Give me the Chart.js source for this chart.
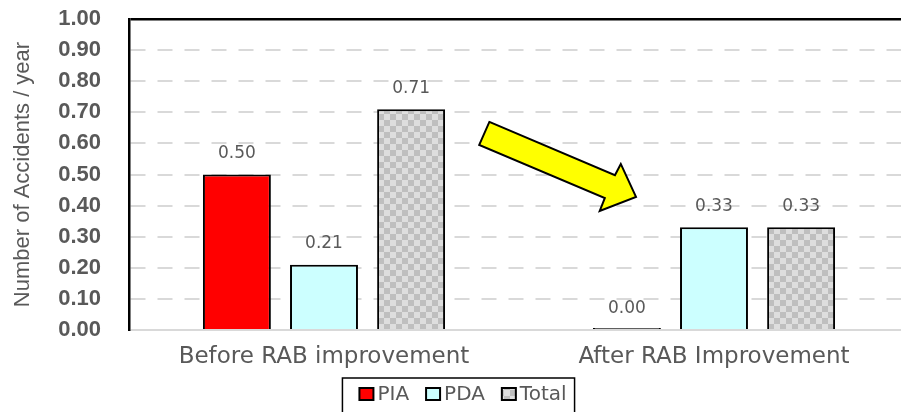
<!DOCTYPE html>
<html>
<head>
<meta charset="utf-8">
<script src="https://cdn.jsdelivr.net/npm/chart.js@4/dist/chart.umd.min.js"></script>
<style>
  body { margin: 0; overflow: hidden; background: #fff; }
</style>
</head>
<body>
<canvas id="accChart" width="915" height="412"></canvas>
<script>
var categories = ["Before RAB improvement", "After RAB Improvement"];
var seriesNames = ["PIA", "PDA", "Total"];
var piaValues = [0.50, 0.00];
var pdaValues = [0.21, 0.33];
var totalValues = [0.71, 0.33];
var yTicks = [0, 0.1, 0.2, 0.3, 0.4, 0.5, 0.6, 0.7, 0.8, 0.9, 1.0];

// arrow outline in chart units (x = category index, y = accidents/year)
var arrowX = [0.424, 0.746, 0.761, 0.800, 0.707, 0.720, 0.398];
var arrowY = [0.669, 0.498, 0.534, 0.428, 0.383, 0.424, 0.595];

var grey = "#595959";

// checker pattern for Total bars
function checker() {
  var c = document.createElement("canvas");
  c.width = 12; c.height = 12;
  var g = c.getContext("2d");
  g.fillStyle = "#dedede";
  g.fillRect(0, 0, 12, 12);
  g.fillStyle = "#bfbfbf";
  g.fillRect(0, 0, 6, 6);
  g.fillRect(6, 6, 6, 6);
  return g.createPattern(c, "repeat");
}
var checkerFill = checker();
var legendFills = ["#ff0000", "#ccffff", checkerFill];

var valueLabels = {
  id: "valueLabels",
  afterDatasetsDraw: function(chart) {
    var ctx = chart.ctx;
    ctx.save();
    ctx.font = "17px 'DejaVu Sans'";
    ctx.fillStyle = grey;
    ctx.textAlign = "center";
    ctx.textBaseline = "middle";
    chart.data.datasets.forEach(function(ds, i) {
      chart.getDatasetMeta(i).data.forEach(function(bar, j) {
        ctx.fillText(ds.data[j].toFixed(2), bar.x, chart.scales.y.getPixelForValue(ds.data[j]) - 21);
      });
    });
    ctx.restore();
  }
};

var arrowPlugin = {
  id: "arrowPlugin",
  afterDatasetsDraw: function(chart) {
    var ctx = chart.ctx, xs = chart.scales.x, ys = chart.scales.y;
    ctx.save();
    ctx.beginPath();
    for (var i = 0; i < arrowX.length; i++) {
      var px = xs.getPixelForValue(arrowX[i]);
      var py = ys.getPixelForValue(arrowY[i]);
      if (i === 0) ctx.moveTo(px, py); else ctx.lineTo(px, py);
    }
    ctx.closePath();
    ctx.fillStyle = "#ffff00";
    ctx.fill();
    ctx.lineWidth = 2;
    ctx.lineJoin = "miter";
    ctx.strokeStyle = "#000";
    ctx.stroke();
    ctx.restore();
  }
};

var boxLegend = {
  id: "boxLegend",
  afterDraw: function(chart) {
    var ctx = chart.ctx;
    ctx.save();
    ctx.font = "20px 'DejaVu Sans'";
    var sq = 14, gap = 4, sep = 17, pad = 17, padR = 8;
    var total = pad + padR;
    seriesNames.forEach(function(n, i) {
      total += sq + gap + ctx.measureText(n).width + (i < seriesNames.length - 1 ? sep : 0);
    });
    var left = chart.width / 2 - total / 2 + 1;
    var top = 378, cy = 394;
    ctx.lineWidth = 1.5;
    ctx.strokeStyle = "#000";
    ctx.strokeRect(left, top, total, 60);
    var x = left + pad;
    ctx.textBaseline = "middle";
    ctx.textAlign = "left";
    seriesNames.forEach(function(n, i) {
      ctx.fillStyle = legendFills[i];
      ctx.fillRect(x, cy - 6, sq, 12);
      ctx.lineWidth = 2;
      ctx.strokeRect(x, cy - 6, sq, 12);
      x += sq + gap;
      ctx.fillStyle = grey;
      ctx.fillText(n, x, cy + 1);
      x += ctx.measureText(n).width + sep;
    });
    ctx.restore();
  }
};

var ctxAcc = document.getElementById("accChart").getContext("2d");

new Chart(ctxAcc, {
  type: "bar",
  data: {
    labels: categories,
    datasets: [
      {
        label: seriesNames[0],
        data: piaValues,
        backgroundColor: function(c) { return c.raw === 0 ? "#404040" : "#ff0000"; },
        borderColor: "#000",
        borderWidth: 2,
        minBarLength: 2
      },
      {
        label: seriesNames[1],
        data: pdaValues,
        backgroundColor: "#ccffff",
        borderColor: "#000",
        borderWidth: 2
      },
      {
        label: seriesNames[2],
        data: totalValues,
        backgroundColor: checkerFill,
        borderColor: "#000",
        borderWidth: 2
      }
    ]
  },
  options: {
    responsive: false,
    animation: false,
    categoryPercentage: 0.67,
    barPercentage: 0.78,
    layout: { padding: { top: 19, right: 6, bottom: 0, left: 0 } },
    plugins: {
      legend: { display: false },
      tooltip: { enabled: false }
    },
    scales: {
      x: {
        grid: { display: false, drawTicks: false },
        border: { display: true, color: "#d9d9d9", width: 1 },
        ticks: {
          color: grey,
          padding: 13,
          font: { family: "'DejaVu Sans'", size: 23 }
        },
        afterFit: function(s) { s.height = 82; }
      },
      y: {
        min: 0,
        max: 1,
        afterBuildTicks: function(s) {
          s.ticks = yTicks.map(function(v) { return { value: v }; });
        },
        grid: {
          drawTicks: false,
          lineWidth: function(c) { return c.tick && c.tick.value === 1 ? 2.5 : 2; },
          color: function(c) {
            if (!c.tick) return "#d9d9d9";
            if (c.tick.value === 1) return "#000";
            return "#d9d9d9";
          }
        },
        border: {
          display: true,
          color: "#000",
          width: 2.5,
          dash: function(c) { return c.tick && (c.tick.value === 1 || c.tick.value === 0) ? [] : [15, 12]; }
        },
        ticks: {
          color: grey,
          padding: 28,
          autoSkip: false,
          font: { family: "'Liberation Sans'", size: 22, weight: "bold" },
          callback: function(v) { return Number(v).toFixed(2); }
        },
        title: {
          display: true,
          text: "Number of Accidents / year",
          color: grey,
          padding: { top: 10, bottom: 0 },
          font: { family: "'Liberation Sans'", size: 22 }
        },
        afterFit: function(s) {
          s.width = 129;
          s.paddingTop = 0;
          s.paddingBottom = 0;
        }
      }
    }
  },
  plugins: [valueLabels, arrowPlugin, boxLegend]
});
</script>
</body>
</html>
